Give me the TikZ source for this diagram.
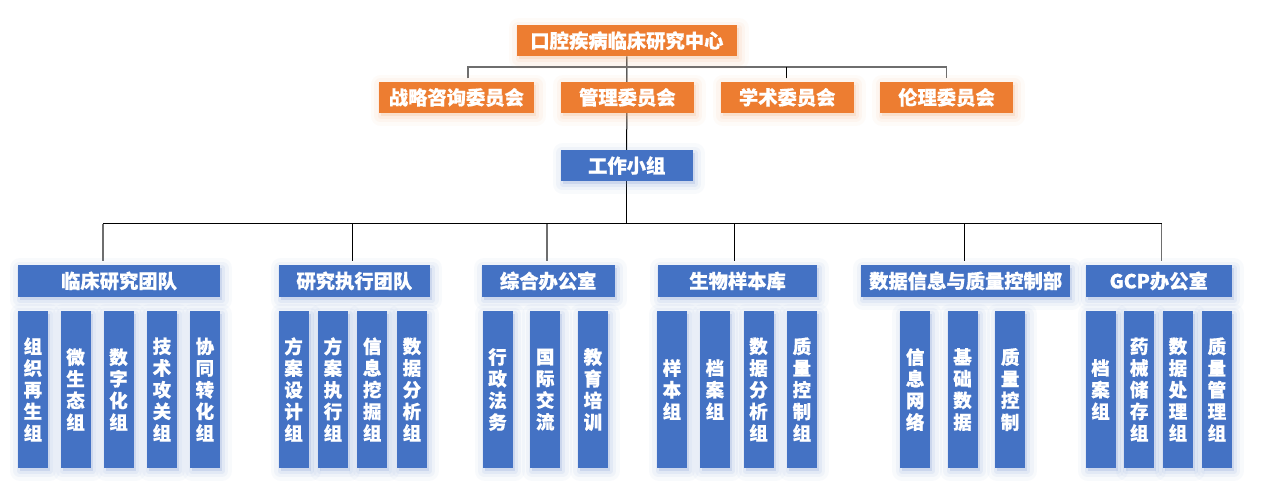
\documentclass[tikz,border=0pt]{standalone}
\usepackage{fontspec}
\setmainfont{Noto Sans CJK SC}[BoldFeatures={FakeBold=0.6}]
\usetikzlibrary{calc,backgrounds}
\definecolor{orgc}{HTML}{ED7D31}
\definecolor{bluc}{HTML}{4472C4}
\definecolor{lgray}{HTML}{6E6E6E}
\tikzset{
  glow/.style={
    preaction={draw=#1, fill=#1, line width=20pt, opacity=0.045, line join=round, transform canvas={shift={(2pt,-3pt)}}},
    preaction={draw=#1, fill=#1, line width=13pt, opacity=0.06, line join=round, transform canvas={shift={(2pt,-3pt)}}},
    preaction={draw=#1, fill=#1, line width=6pt, opacity=0.09, line join=round, transform canvas={shift={(2pt,-3pt)}}}},
  basebox/.style={anchor=north west, inner sep=0pt, text=white, font=\fontsize{19.3}{22}\selectfont\bfseries},
  obox/.style={basebox, fill=orgc, glow=orgc!70, minimum height=31pt},
  bbox/.style={basebox, fill=bluc, glow=bluc!80, minimum height=31.5pt},
  vbox/.style={basebox, fill=bluc, glow=bluc!80, minimum width=30pt, minimum height=156.7pt, align=center,
    font=\fontsize{18.5}{21.7}\selectfont\bfseries},
  gline/.style={draw=lgray, line width=1.3pt},
  kline/.style={draw=black, line width=1pt}
}
\begin{document}
\begin{tikzpicture}[x=1pt,y=-1pt]
\useasboundingbox (0,0) rectangle (1270,489);
% top
\node[obox, minimum width=220pt] (top) at (516.7,25) {口腔疾病临床研究中心};
\node[obox, minimum width=155.7pt] (zl) at (378.3,81.7) {战略咨询委员会};
\node[obox, minimum width=132.3pt] (gl) at (561,81.7) {管理委员会};
\node[obox, minimum width=132.6pt] (xs) at (720.7,81.7) {学术委员会};
\node[obox, minimum width=132.7pt] (ll) at (880,81.7) {伦理委员会};
\node[bbox, minimum width=132.4pt, minimum height=30.7pt] (work) at (560.3,150) {工作小组};
% headers
\node[bbox, minimum width=202.3pt] (h1) at (17.7,265) {临床研究团队};
\node[bbox, minimum width=151.7pt] (h2) at (278.3,265) {研究执行团队};
\node[bbox, minimum width=132.6pt] (h3) at (481.7,265) {综合办公室};
\node[bbox, minimum width=158.7pt] (h4) at (658,265) {生物样本库};
\node[bbox, minimum width=209pt] (h5) at (861,265) {数据信息与质量控制部};
\node[bbox, minimum width=146.4pt] (h6) at (1085.3,265) {GCP办公室};
% group 1
\node[vbox] (a1) at (17.7,311) {组\\织\\再\\生\\组};
\node[vbox] (a2) at (60.3,311) {微\\生\\态\\组};
\node[vbox] (a3) at (103.3,311) {数\\字\\化\\组};
\node[vbox] (a4) at (146.7,311) {技\\术\\攻\\关\\组};
\node[vbox] (a5) at (189.7,311) {协\\同\\转\\化\\组};
% group 2
\node[vbox] (b1) at (278.3,311) {方\\案\\设\\计\\组};
\node[vbox] (b2) at (317.7,311) {方\\案\\执\\行\\组};
\node[vbox] (b3) at (357,311) {信\\息\\挖\\掘\\组};
\node[vbox] (b4) at (396.7,311) {数\\据\\分\\析\\组};
% group 3
\node[vbox] (c1) at (482.3,311) {行\\政\\法\\务};
\node[vbox] (c2) at (530,311) {国\\际\\交\\流};
\node[vbox] (c3) at (577.7,311) {教\\育\\培\\训};
% group 4
\node[vbox] (e1) at (656.7,311) {样\\本\\组};
\node[vbox] (e2) at (699.7,311) {档\\案\\组};
\node[vbox] (e3) at (743.3,311) {数\\据\\分\\析\\组};
\node[vbox] (e4) at (786.7,311) {质\\量\\控\\制\\组};
% group 5
\node[vbox] (f1) at (900,311) {信\\息\\网\\络};
\node[vbox] (f2) at (947.3,311) {基\\础\\数\\据};
\node[vbox] (f3) at (995,311) {质\\量\\控\\制};
% group 6
\node[vbox] (g1) at (1085.3,311) {档\\案\\组};
\node[vbox] (g2) at (1124,311) {药\\械\\储\\存\\组};
\node[vbox] (g3) at (1162.7,311) {数\\据\\处\\理\\组};
\node[vbox] (g4) at (1201.7,311) {质\\量\\管\\理\\组};
% connectors
\begin{pgfonlayer}{background}
\fill[white] (0,0) rectangle (1270,489);
\coordinate (cbus) at ($(top.south)+(0,10.6)$);
\coordinate (tz) at ($(zl.north)+(11.5,-3.4)$);
\coordinate (tx) at ($(xs.north)+(-0.7,-3.4)$);
\coordinate (tl) at ($(ll.north)+(-0.3,-3.4)$);
\draw[kline] (top.south) -- (work.north);
\draw[gline] (tz) -- (tz |- cbus) -- (tl |- cbus) -- (tl);
\draw[kline] (tx) -- (tx |- cbus);
\coordinate (bus) at ($(work.south)+(0,42.6)$);
\coordinate (t1) at ($(h1.north)+(-16.2,-4.3)$);
\coordinate (t2) at ($(h2.north)+(-1.9,-4.3)$);
\coordinate (t3) at ($(h3.north)+(-1.3,-4.3)$);
\coordinate (t4) at ($(h4.north)+(-3,-4.3)$);
\coordinate (t5) at ($(h5.north)+(-1.2,-4.3)$);
\coordinate (t6) at ($(h6.north)+(2.8,-4.3)$);
\draw[kline] (work.south) -- (bus);
\draw[kline] (t1 |- bus) -- (t6 |- bus);
\draw[gline] (t1) -- (t1 |- bus);
\draw[kline] (t2) -- (t2 |- bus);
\draw[gline] (t3) -- (t3 |- bus);
\draw[kline] (t4) -- (t4 |- bus);
\draw[kline] (t5) -- (t5 |- bus);
\draw[gline] (t6) -- (t6 |- bus);
\end{pgfonlayer}
\end{tikzpicture}
\end{document}
